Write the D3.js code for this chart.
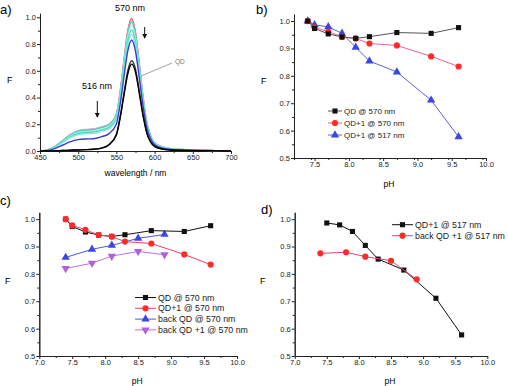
<!DOCTYPE html>
<html lang="en">
<head>
<meta charset="utf-8">
<title>QD fluorescence vs pH</title>
<script src="https://cdn.jsdelivr.net/npm/d3@7"></script>
<style>
  body { margin: 0; background: #fff; }
  svg { font-family: "Liberation Sans", Arial, sans-serif; }
  .tick text { font-size: 7.5px; fill: #222; }
  .domain, .tick line { stroke: #222; }
</style>
</head>
<body>
<script>
// ---- data: panel a spectra ----
var wavelength = [450,460,470,480,490,500,510,520,530,540,550,555,560,565,570,575,580,585,590,595,600,610,620,640,660,680,700];
var specRed   = [0,0.009,0.035,0.079,0.123,0.149,0.158,0.161,0.177,0.197,0.275,0.446,0.684,0.903,0.990,0.886,0.650,0.399,0.207,0.111,0.061,0.030,0.018,0.010,0.006,0.003,0];
var specPink  = [0,0.009,0.036,0.080,0.125,0.152,0.162,0.166,0.180,0.198,0.272,0.440,0.675,0.890,0.975,0.873,0.640,0.393,0.204,0.109,0.061,0.030,0.018,0.010,0.006,0.003,0];
var specCyanA = [0,0.009,0.034,0.077,0.121,0.146,0.155,0.158,0.173,0.192,0.269,0.435,0.666,0.880,0.964,0.863,0.633,0.389,0.202,0.108,0.060,0.029,0.018,0.010,0.006,0.003,0];
var specCyanB = [0,0.008,0.033,0.073,0.114,0.139,0.147,0.150,0.165,0.184,0.258,0.420,0.646,0.854,0.936,0.839,0.615,0.378,0.196,0.105,0.058,0.028,0.017,0.009,0.006,0.003,0];
var specCyanC = [0,0.008,0.031,0.070,0.108,0.131,0.139,0.142,0.156,0.175,0.247,0.405,0.625,0.826,0.906,0.811,0.595,0.365,0.189,0.101,0.055,0.027,0.017,0.008,0.006,0.003,0];
var specCyanD = [0,0.007,0.029,0.065,0.101,0.122,0.130,0.132,0.147,0.165,0.235,0.389,0.601,0.796,0.874,0.783,0.574,0.352,0.183,0.097,0.053,0.026,0.015,0.008,0.005,0.003,0];
var specBlue  = [0,0.005,0.020,0.045,0.070,0.085,0.090,0.092,0.106,0.128,0.202,0.353,0.560,0.751,0.830,0.745,0.546,0.334,0.171,0.090,0.048,0.022,0.013,0.007,0.004,0.002,0];
var specBlk1  = [0,0,0.002,0.004,0.006,0.008,0.010,0.013,0.020,0.045,0.120,0.250,0.420,0.580,0.650,0.590,0.430,0.260,0.130,0.065,0.035,0.015,0.008,0.004,0.002,0.001,0];
var specBlk2  = [0,0,0.002,0.004,0.006,0.008,0.010,0.014,0.021,0.047,0.125,0.260,0.436,0.602,0.675,0.613,0.447,0.270,0.135,0.068,0.036,0.016,0.008,0.004,0.002,0.001,0];

// ---- data: pH series ----
var pH = [7.4,7.5,7.7,7.9,8.1,8.3,8.7,9.2,9.6];
var qd570 = [1.0,0.973,0.953,0.942,0.937,0.943,0.958,0.955,0.976];
var qd1at570 = [1.0,0.977,0.961,0.942,0.936,0.918,0.911,0.871,0.834];
var qd1at517 = [1.0,0.986,0.979,0.955,0.904,0.854,0.814,0.711,0.577];
var pHback = [7.4,7.8,8.1,8.5,8.9];
var backQd570 = [0.860,0.890,0.904,0.930,0.944];
var backQd1at570 = [0.820,0.839,0.865,0.882,0.870];
var backQd1at517 = [0.875,0.879,0.863,0.848,0.780];

var w = 508, h = 386;
var svg = d3.select("body").append("svg").attr("width", w).attr("height", h);

function range(a, b, s) { return d3.range(a, b + s / 2, s); }

// axes for one panel
function makePanel(o) {
  var x = d3.scaleLinear().domain(o.xd).range(o.xr);
  var y = d3.scaleLinear().domain(o.yd).range(o.yr);
  var g = svg.append("g");
  var minX = range(o.xd[0], o.xd[1], o.xstep / 2).filter(function(v) { return o.xt.every(function(t) { return Math.abs(t - v) > 1e-6; }); });
  var minY = range(o.yt[0], o.yd[1], o.ystep / 2).filter(function(v) { return o.yt.every(function(t) { return Math.abs(t - v) > 1e-6; }); });
  g.append("g").attr("transform", "translate(0," + o.yr[0] + ")")
    .call(d3.axisBottom(x).tickValues(minX).tickSize(2).tickFormat("").tickSizeOuter(0));
  g.append("g").attr("transform", "translate(" + o.xr[0] + ",0)")
    .call(d3.axisLeft(y).tickValues(minY).tickSize(2).tickFormat("").tickSizeOuter(0));
  g.append("g").attr("transform", "translate(0," + o.yr[0] + ")")
    .call(d3.axisBottom(x).tickValues(o.xt).tickSize(3).tickPadding(1).tickSizeOuter(0).tickFormat(o.xf));
  g.append("g").attr("transform", "translate(" + o.xr[0] + ",0)")
    .call(d3.axisLeft(y).tickValues(o.yt).tickSize(3).tickPadding(1).tickSizeOuter(0).tickFormat(d3.format(".1f")));
  g.append("text").attr("x", (o.xr[0] + o.xr[1]) / 2 + o.xlOff).attr("y", o.xlY).attr("text-anchor", "middle")
    .attr("font-size", 8.5).text(o.xlabel);
  g.append("text").attr("x", o.fX).attr("y", o.fY).attr("font-size", 9).text("F");
  g.append("text").attr("x", o.lX).attr("y", o.lY).attr("font-size", 13).text(o.label);
  return { x: x, y: y, g: g };
}

var sym = {
  square: d3.symbol().type(d3.symbolSquare).size(26),
  circle: d3.symbol().type(d3.symbolCircle).size(30),
  tri: d3.symbol().type(d3.symbolTriangle).size(30)
};

function series(p, xs, ys, line, fill, shape) {
  var pts = xs.map(function(v, i) { return [p.x(v), p.y(ys[i])]; });
  p.g.append("path").attr("d", d3.line()(pts)).attr("fill", "none").attr("stroke", line).attr("stroke-width", 1);
  p.g.selectAll(null).data(pts).enter().append("path")
    .attr("d", shape === "down" ? sym.tri() : sym[shape]())
    .attr("transform", function(d) { return "translate(" + d[0] + "," + d[1] + ")" + (shape === "down" ? " rotate(180)" : ""); })
    .attr("fill", fill);
}

function legend(p, x0, y0, dy, items, fs) {
  items.forEach(function(it, i) {
    var yy = y0 + i * dy;
    p.g.append("line").attr("x1", x0).attr("x2", x0 + it.len).attr("y1", yy).attr("y2", yy).attr("stroke", it.line).attr("stroke-width", 1);
    p.g.append("path").attr("d", it.shape === "down" ? sym.tri() : sym[it.shape]())
      .attr("transform", "translate(" + (x0 + it.len / 2) + "," + yy + ")" + (it.shape === "down" ? " rotate(180)" : ""))
      .attr("fill", it.fill);
    p.g.append("text").attr("x", x0 + it.len + 2).attr("y", yy + fs * 0.36).attr("font-size", fs).attr("fill", "#222").text(it.text);
  });
}

// ---- panel a ----
var pa = makePanel({ xd: [450, 700], xr: [40, 231], yd: [0, 1.03], yr: [151, 13.3],
  xt: range(450, 700, 50), xstep: 50, yt: range(0, 1, 0.2), ystep: 0.2, xf: d3.format("d"),
  xlabel: "wavelength / nm", xlOff: 0, xlY: 176, fX: 7, fY: 83, lX: 0, lY: 14, label: "a)" });

var specs = [
  [specRed, "#e8405e"], [specPink, "#c4b4cc"], [specCyanA, "#3fd6bf"], [specCyanB, "#a8f0e4"],
  [specCyanC, "#4fd9c4"], [specCyanD, "#80e6d4"], [specBlue, "#3b3bd6"], [specBlk2, "#333"], [specBlk1, "#000"]
];
var specLine = d3.line().curve(d3.curveMonotoneX);
specs.forEach(function(s) {
  var pts = wavelength.map(function(v, i) { return [pa.x(v), pa.y(s[0][i])]; });
  pa.g.append("path").attr("d", specLine(pts)).attr("fill", "none").attr("stroke", s[1]).attr("stroke-width", 1.4);
});

svg.append("defs").append("marker").attr("id", "ah").attr("viewBox", "0 0 6 6").attr("refX", 5).attr("refY", 3)
  .attr("markerWidth", 5).attr("markerHeight", 5).attr("orient", "auto")
  .append("path").attr("d", "M0,0L6,3L0,6Z").attr("fill", "#111");
pa.g.append("line").attr("x1", pa.x(587)).attr("x2", pa.x(587)).attr("y1", 27).attr("y2", 38).attr("stroke", "#111").attr("marker-end", "url(#ah)");
pa.g.append("line").attr("x1", pa.x(525)).attr("x2", pa.x(525)).attr("y1", 101).attr("y2", 117).attr("stroke", "#111").attr("marker-end", "url(#ah)");
pa.g.append("text").attr("x", 130).attr("y", 11).attr("text-anchor", "middle").attr("font-size", 9).text("570 nm");
pa.g.append("text").attr("x", 97).attr("y", 89).attr("text-anchor", "middle").attr("font-size", 9).text("516 nm");
pa.g.append("line").attr("x1", 141).attr("y1", 76).attr("x2", 172).attr("y2", 63).attr("stroke", "#9aa4b4").attr("stroke-width", 1);
pa.g.append("text").attr("x", 175).attr("y", 64).attr("font-size", 6.5).attr("fill", "#777").text("QD");

// ---- panel b ----
var pb = makePanel({ xd: [7.2, 10], xr: [294, 486], yd: [0.5, 1.025], yr: [158, 14.2],
  xt: range(7.5, 10, 0.5), xstep: 0.5, yt: range(0.5, 1, 0.1), ystep: 0.1, xf: d3.format(".1f"),
  xlabel: "pH", xlOff: -1, xlY: 187, fX: 261, fY: 84, lX: 256, lY: 14, label: "b)" });
series(pb, pH, qd1at517, "#5b62d8", "#3a46e6", "tri");
series(pb, pH, qd1at570, "#f0609a", "#ff2a2a", "circle");
series(pb, pH, qd570, "#555", "#111", "square");
legend(pb, 328, 111, 12, [
  { line: "#555", fill: "#111", shape: "square", text: "QD @ 570 nm", len: 14 },
  { line: "#f0609a", fill: "#ff2a2a", shape: "circle", text: "QD+1 @ 570 nm", len: 14 },
  { line: "#5b62d8", fill: "#3a46e6", shape: "tri", text: "QD+1 @ 517 nm", len: 14 }
], 8);

// ---- panel c ----
var pc = makePanel({ xd: [7, 10], xr: [39.3, 237], yd: [0.5, 1.025], yr: [356, 212.3],
  xt: range(7, 10, 0.5), xstep: 0.5, yt: range(0.5, 1, 0.1), ystep: 0.1, xf: d3.format(".1f"),
  xlabel: "pH", xlOff: -1, xlY: 384, fX: 5, fY: 284, lX: 0, lY: 205, label: "c)" });
series(pc, pHback, backQd1at570, "#c070d8", "#b060e0", "down");
series(pc, pHback, backQd570, "#4a5ae0", "#3a46e6", "tri");
series(pc, pH, qd570, "#111", "#111", "square");
series(pc, pH, qd1at570, "#f0406a", "#ff2a2a", "circle");
legend(pc, 135, 297.5, 10.8, [
  { line: "#111", fill: "#111", shape: "square", text: "QD @ 570 nm", len: 21 },
  { line: "#f0406a", fill: "#ff2a2a", shape: "circle", text: "QD+1 @ 570 nm", len: 21 },
  { line: "#4a5ae0", fill: "#3a46e6", shape: "tri", text: "back QD @ 570 nm", len: 21 },
  { line: "#c070d8", fill: "#b060e0", shape: "down", text: "back QD +1 @ 570 nm", len: 21 }
], 8.8);

// ---- panel d ----
var pd = makePanel({ xd: [7, 10], xr: [294.7, 487.3], yd: [0.5, 1.025], yr: [356, 212.3],
  xt: range(7, 10, 0.5), xstep: 0.5, yt: range(0.5, 1, 0.1), ystep: 0.1, xf: d3.format(".1f"),
  xlabel: "pH", xlOff: -1, xlY: 384, fX: 260, fY: 284, lX: 261, lY: 214, label: "d)" });
series(pd, pH.slice(1), qd1at517.slice(1), "#111", "#111", "square");
series(pd, pHback, backQd1at517, "#e0408a", "#ff2a2a", "circle");
legend(pd, 392, 224.7, 11, [
  { line: "#111", fill: "#111", shape: "square", text: "QD+1 @ 517 nm", len: 21 },
  { line: "#e0408a", fill: "#ff2a2a", shape: "circle", text: "back QD +1 @ 517 nm", len: 21 }
], 8.8);
</script>
</body>
</html>
